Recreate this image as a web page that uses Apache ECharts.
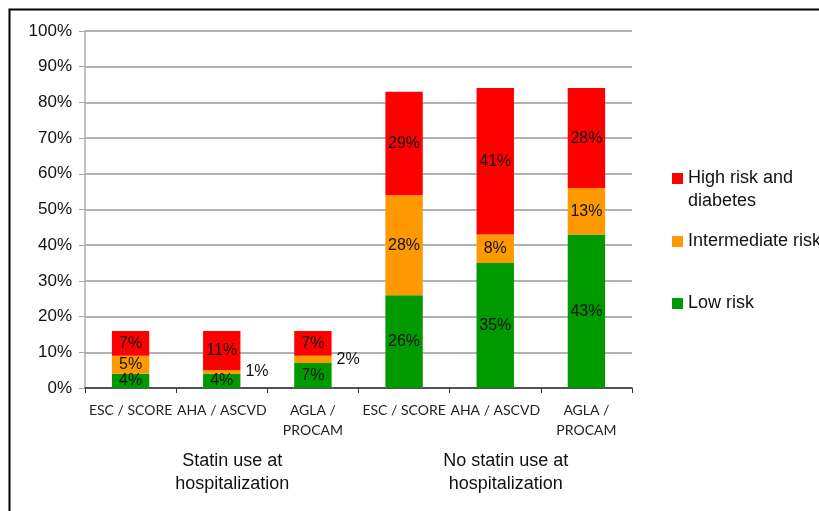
<!DOCTYPE html>
<html>
<head>
<meta charset="utf-8">
<script src="https://cdn.jsdelivr.net/npm/echarts@6/dist/echarts.min.js"></script>
<style>html,body{margin:0;padding:0;background:#fff}#c{width:819px;height:511px}</style>
</head>
<body>
<div id="c"></div>
<script>
const categories = ['ESC / SCORE', 'AHA / ASCVD', 'AGLA /\nPROCAM', 'ESC / SCORE', 'AHA / ASCVD', 'AGLA /\nPROCAM'];
const groups = ['Statin use at\nhospitalization', 'No statin use at\nhospitalization'];
const seriesNames = ['Low risk', 'Intermediate risk', 'High risk and diabetes'];
const lowRisk = [4, 4, 7, 26, 35, 43];
const intermediateRisk = [5, 1, 2, 28, 8, 13];
const highRisk = [7, 11, 7, 29, 41, 28];
const yTicks = [0, 10, 20, 30, 40, 50, 60, 70, 80, 90, 100];

const colors = ['#009900', '#FF9900', '#FF0000'];
const FONT = 'Liberation Sans, Arial, Helvetica, sans-serif';

function buildData(values) {
  return values.map(v => v <= 2 ? { value: v, label: { position: 'right' } } : v);
}

const chart = echarts.init(document.getElementById('c'), null, { renderer: 'canvas' });
const values = [lowRisk, intermediateRisk, highRisk];

const option = {
  backgroundColor: '#fff',
  animation: false,
  grid: { left: 85, right: 187, top: 31, bottom: 123, containLabel: false },
  xAxis: [
    {
      type: 'category',
      data: categories,
      axisLine: { show: true, lineStyle: { color: '#333', width: 1.5 } },
      axisTick: { show: true, length: 5, lineStyle: { color: '#333' } },
      axisLabel: { interval: 0, margin: 12, color: '#222', fontFamily: 'Lato, "Open Sans", sans-serif', fontSize: 14, lineHeight: 20 }
    },
    {
      type: 'category',
      position: 'bottom',
      data: groups,
      axisLine: { show: false },
      axisTick: { show: false },
      axisLabel: { interval: 0, margin: 62, color: '#111', fontFamily: FONT, fontSize: 18, lineHeight: 23, padding: [0, 0, 0, 21] }
    }
  ],
  yAxis: {
    type: 'value',
    min: yTicks[0],
    max: yTicks[yTicks.length - 1],
    interval: yTicks[1] - yTicks[0],
    axisLine: { show: true, lineStyle: { color: '#aaa', width: 1.5 } },
    axisTick: { show: true, length: 6, lineStyle: { color: '#aaa' } },
    axisLabel: { formatter: '{value}%', color: '#111', fontFamily: FONT, fontSize: 17, margin: 13 },
    splitLine: { show: true, lineStyle: { color: '#999', width: 1.5 } }
  },
  legend: [2, 1, 0].map((i, k) => ({
    orient: 'vertical',
    left: 672,
    top: [144, 230, 292][k],
    padding: 0,
    itemWidth: 11,
    itemHeight: 11,
    icon: 'rect',
    data: [seriesNames[i]],
    formatter: n => n === 'High risk and diabetes' ? ' \nHigh risk and\ndiabetes' : n,
    textStyle: { color: '#111', fontFamily: FONT, fontSize: 18, lineHeight: 23 }
  })),
  series: seriesNames.map((name, i) => ({
    name: name,
    type: 'bar',
    stack: 'total',
    xAxisIndex: 0,
    barCategoryGap: '59%',
    itemStyle: { color: colors[i] },
    label: { show: true, position: 'inside', formatter: '{c}%', color: '#111', fontFamily: FONT, fontSize: 16 },
    data: buildData(values[i])
  })),
  graphic: [
    {
      type: 'polyline',
      shape: { points: [[9.5, 511], [9.5, 9.5], [819, 9.5]] },
      style: { stroke: '#000', lineWidth: 2, fill: null }
    }
  ]
};
chart.setOption(option);
</script>
</body>
</html>
